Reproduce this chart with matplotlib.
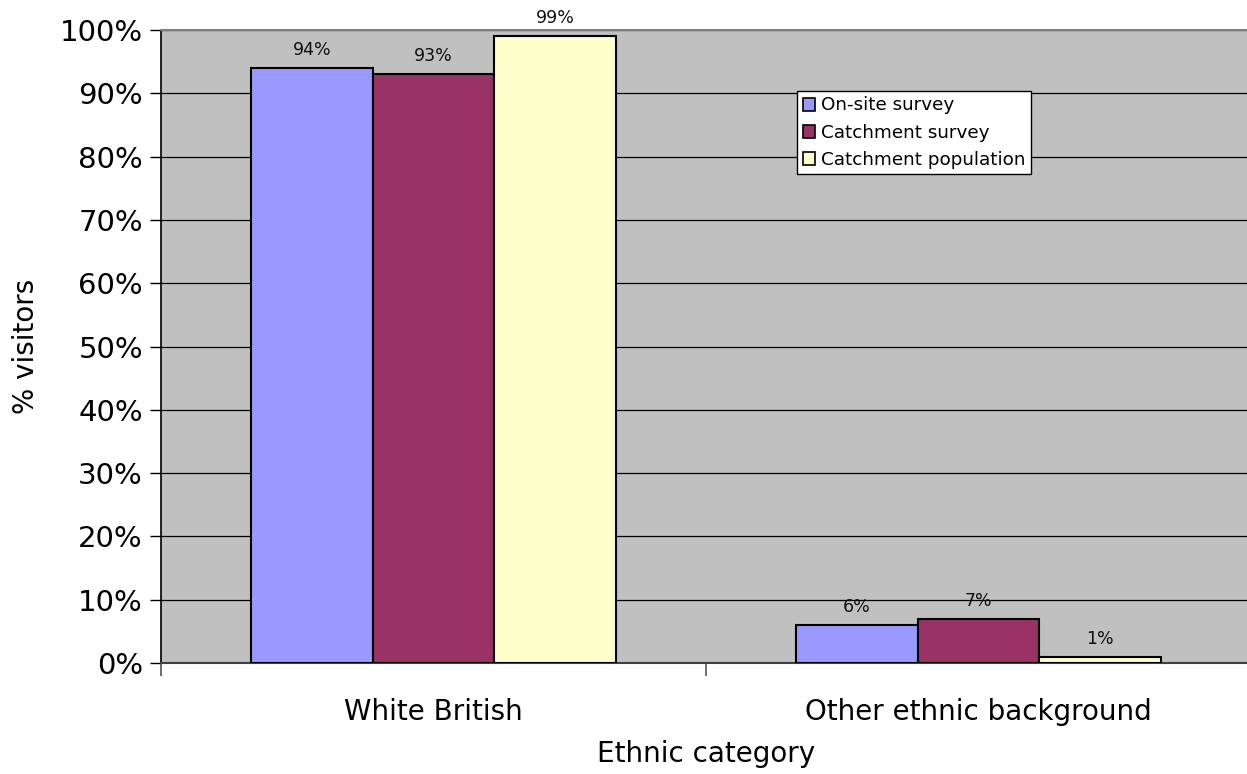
import matplotlib

matplotlib.use("Agg")

import matplotlib.pyplot as plt
import numpy as np
from matplotlib.patches import Patch

categories = ["White British", "Other ethnic background"]
series_names = ["On-site survey", "Catchment survey", "Catchment population"]
on_site = [94, 6]
catchment_survey = [93, 7]
catchment_population = [99, 1]
colors = ["#9999FF", "#993366", "#FFFFCC"]
y_ticks = list(range(0, 101, 10))

plt.rcParams["font.family"] = ["Verdana", "DejaVu Sans"]

W, H = 1247, 774
fig = plt.figure(figsize=(W / 100, H / 100), dpi=100)
ax = fig.add_axes([161 / W, 1 - 663 / H, 1090 / W, (663 - 30) / H])
ax.set_facecolor("#C0C0C0")

x = np.arange(len(categories))
width = 0.2234
values = [on_site, catchment_survey, catchment_population]
for i, (vals, color) in enumerate(zip(values, colors)):
    pos = x + (i - 1) * width
    ax.bar(pos, vals, width, color=color, edgecolor="black", linewidth=1.5, zorder=3)
    for px, v in zip(pos, vals):
        ax.annotate(f"{v}%", (px, v), xytext=(0, 13), textcoords="offset points",
                    ha="center", va="center", fontsize=12.5, color="#111111", zorder=4)

ax.set_xlim(-0.5, 1.5)
ax.set_ylim(0, 100)
ax.set_yticks(y_ticks)
ax.set_yticklabels([f"{t}%" for t in y_ticks], fontsize=21)
ax.yaxis.grid(True, color="black", linewidth=0.9, zorder=1)
ax.set_axisbelow(True)

ax.set_xticks([-0.5, 0.5])
ax.set_xticklabels([])
ax.set_xticks(x, minor=True)
ax.set_xticklabels(categories, minor=True, fontsize=20)
ax.tick_params(axis="x", which="minor", length=0, pad=25)
ax.tick_params(axis="x", which="major", length=9, color="#555555", width=1.2)
ax.tick_params(axis="y", length=8, width=1, pad=5)

ax.spines["right"].set_visible(False)
ax.spines["top"].set_color("#808080")
ax.spines["top"].set_linewidth(1.5)
ax.spines["left"].set_color("black")
ax.spines["left"].set_linewidth(1.2)
ax.spines["bottom"].set_color("#404040")
ax.spines["bottom"].set_linewidth(1.5)

ax.set_ylabel("% visitors", fontsize=20, labelpad=14)
ax.set_xlabel("Ethnic category", fontsize=20, labelpad=10)

handles = [Patch(facecolor=c, edgecolor="black", linewidth=1.2) for c in colors]
leg = ax.legend(handles, series_names, loc="upper left", bbox_to_anchor=(636 / 1090, 1 - 61 / 633),
                fontsize=13.2, frameon=True, fancybox=False, framealpha=1, edgecolor="black",
                handlelength=0.7, handleheight=0.7, handletextpad=0.3, borderpad=0.3,
                labelspacing=0.5, borderaxespad=0)
leg.get_frame().set_linewidth(1)

fig.savefig("out.png", dpi=100)
